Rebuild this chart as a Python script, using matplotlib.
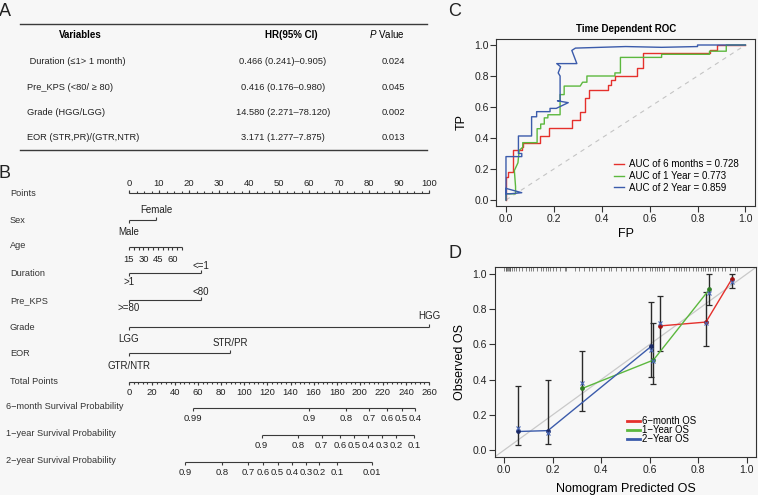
import matplotlib
matplotlib.use('Agg')
import matplotlib.pyplot as plt
import numpy as np

# figure size in pixels
W, H = 758, 495
BG = '#f7f7f7'
LINE = '#3a3a3a'

plt.rcParams['font.family'] = ['Liberation Sans', 'DejaVu Sans']
plt.rcParams['mathtext.fontset'] = 'custom'
plt.rcParams['mathtext.it'] = 'Liberation Sans:italic'
plt.rcParams['mathtext.rm'] = 'Liberation Sans'

# ---------------- data ----------------
# A: Cox table
var_names = [' Duration (≤1> 1 month)', 'Pre_KPS (<80/ ≥ 80)', 'Grade (HGG/LGG)', 'EOR (STR,PR)/(GTR,NTR)']
hr_ci = ['0.466 (0.241)–0.905)', '0.416 (0.176–0.980)', '14.580 (2.271–78.120)', '3.171 (1.277–7.875)']
p_vals = ['0.024', '0.045', '0.002', '0.013']

# B: nomogram (points for each level)
sex_levels = ['Male', 'Female']
sex_points = [0, 9]
age_ticks = [15, 20, 25, 30, 35, 40, 45, 50, 55, 60, 65, 70]
age_labels = [15, 30, 45, 60]
age_pts_per_year = 17.7 / 55
dur_levels = ['>1', '<=1']
dur_points = [0, 24]
kps_levels = ['>=80', '<80']
kps_points = [0, 24]
grade_levels = ['LGG', 'HGG']
grade_points = [0, 100]
eor_levels = ['GTR/NTR', 'STR/PR']
eor_points = [0, 33.7]
total_max = 260
surv6_probs = ['0.99', '0.9', '0.8', '0.7', '0.6', '0.5', '0.4']
surv6_total = [55.5, 156, 188, 208, 223.6, 236.3, 247.9]
surv1_probs = ['0.9', '0.8', '0.7', '0.6', '0.5', '0.4', '0.3', '0.2', '0.1']
surv1_total = [115, 146.2, 167, 182.9, 195, 207.4, 219.5, 231.4, 247]
surv2_probs = ['0.9', '0.8', '0.7', '0.6', '0.5', '0.4', '0.3', '0.2', '0.1', '0.01']
surv2_total = [48.5, 80.9, 103.4, 116.4, 128.8, 141.5, 153.4, 165, 180.6, 210.4]

# C: time dependent ROC
fp_6m = [0.0, 0.0, 0.01, 0.01, 0.028, 0.028, 0.065, 0.065, 0.072, 0.072, 0.142, 0.142, 0.181, 0.181,
         0.275, 0.275, 0.31, 0.31, 0.33, 0.33, 0.345, 0.345, 0.428, 0.428, 0.44, 0.44, 0.455, 0.455,
         0.547, 0.547, 0.572, 0.572, 0.854, 0.854, 0.88, 0.88, 1.0]
tp_6m = [0.0, 0.15, 0.15, 0.178, 0.178, 0.32, 0.32, 0.345, 0.345, 0.366, 0.366, 0.41, 0.41, 0.462,
         0.462, 0.516, 0.516, 0.57, 0.57, 0.655, 0.655, 0.71, 0.71, 0.74, 0.74, 0.775, 0.775, 0.80,
         0.80, 0.85, 0.85, 0.95, 0.95, 0.968, 0.968, 1.0, 1.0]
fp_1y = [0.0, 0.0, 0.04, 0.04, 0.035, 0.05, 0.055, 0.07, 0.07, 0.13, 0.13, 0.145, 0.145, 0.16, 0.16,
         0.175, 0.175, 0.226, 0.226, 0.243, 0.243, 0.31, 0.32, 0.338, 0.338, 0.455, 0.455, 0.478,
         0.478, 0.65, 0.65, 0.85, 0.85, 0.92, 0.92, 1.0]
tp_1y = [0.0, 0.04, 0.04, 0.086, 0.19, 0.24, 0.32, 0.34, 0.37, 0.37, 0.46, 0.46, 0.49, 0.49, 0.53,
         0.53, 0.55, 0.55, 0.68, 0.68, 0.735, 0.735, 0.76, 0.76, 0.80, 0.80, 0.82, 0.82, 0.92, 0.92,
         0.94, 0.94, 0.96, 0.96, 1.0, 1.0]
fp_2y = [0.0, 0.0, 0.066, 0.017, 0.0, 0.0, 0.066, 0.066, 0.052, 0.052, 0.107, 0.107, 0.128, 0.128,
         0.184, 0.184, 0.21, 0.26, 0.215, 0.226, 0.226, 0.218, 0.228, 0.212, 0.296, 0.275, 0.29,
         0.5, 0.65, 0.8, 0.8, 1.0]
tp_2y = [0.0, 0.075, 0.047, 0.04, 0.04, 0.28, 0.28, 0.30, 0.30, 0.413, 0.413, 0.537, 0.537, 0.57,
         0.57, 0.591, 0.591, 0.628, 0.64, 0.64, 0.80, 0.82, 0.86, 0.88, 0.88, 0.965, 0.98, 0.99,
         0.985, 0.99, 1.0, 1.0]
roc_labels = ['AUC of 6 months = 0.728', 'AUC of 1 Year = 0.773', 'AUC of 2 Year = 0.859']

# D: calibration
cal6_pred = [0.642, 0.832, 0.938]
cal6_obs = [0.705, 0.727, 0.97]
cal6_lo = [0.564, 0.59, 0.919]
cal6_hi = [0.877, 0.896, 1.0]
cal6_corr = [0.72, 0.722, 0.953]
cal1_pred = [0.322, 0.615, 0.846]
cal1_obs = [0.35, 0.511, 0.913]
cal1_lo = [0.22, 0.375, 0.824]
cal1_hi = [0.5625, 0.72, 1.0]
cal1_corr = [0.383, 0.505, 0.89]
cal2_pred = [0.058, 0.18, 0.607]
cal2_obs = [0.105, 0.11, 0.59]
cal2_lo = [0.028, 0.032, 0.413]
cal2_hi = [0.364, 0.398, 0.843]
cal2_corr = [0.127, 0.095, 0.568]
rug_pred = [0.0, 0.005, 0.008, 0.012, 0.015, 0.018, 0.022, 0.025, 0.03, 0.04, 0.05, 0.06, 0.075,
            0.09, 0.1, 0.11, 0.12, 0.135, 0.15, 0.16, 0.17, 0.18, 0.19, 0.2, 0.215, 0.23, 0.25,
            0.255, 0.29, 0.31, 0.33, 0.35, 0.36, 0.38, 0.4, 0.41, 0.43, 0.44, 0.46, 0.48, 0.5,
            0.52, 0.53, 0.55, 0.57, 0.58, 0.6, 0.61, 0.62, 0.63, 0.64, 0.65, 0.66, 0.68, 0.7,
            0.71, 0.72, 0.73, 0.74, 0.75, 0.76, 0.78, 0.79, 0.8, 0.81, 0.82, 0.83, 0.84, 0.85,
            0.86, 0.87, 0.88, 0.9, 0.91, 0.93, 0.95, 0.96]
cal_labels = ['6\u2212month OS', '1\u2212Year OS', '2\u2212Year OS']

RED, GREEN, BLUE = '#e5302c', '#5cb83e', '#3b5bab'

# ---------------- figure ----------------
fig = plt.figure(figsize=(W / 100, H / 100), dpi=100, facecolor=BG)


def px_axes(x0, y0, x1, y1):
    return fig.add_axes([x0 / W, 1 - y1 / H, (x1 - x0) / W, (y1 - y0) / H])


canvas = px_axes(0, 0, W, H)
canvas.set_xlim(0, W)
canvas.set_ylim(H, 0)
canvas.axis('off')

# panel letters
for lab, x, y in [('A', 5, 12), ('B', 5, 174), ('C', 455, 12), ('D', 455, 254)]:
    canvas.text(x, y, lab, fontsize=13, ha='center', va='center', color='#222')

# ---- A: table ----
canvas.plot([20, 427], [24, 24], color=LINE, lw=1.0)
canvas.plot([20, 427], [150, 150], color=LINE, lw=1.0)
canvas.text(80, 34.5, 'Variables', fontsize=7, fontweight='bold', ha='center', va='center')
canvas.text(291, 34.5, 'HR(95% CI)', fontsize=7, fontweight='bold', ha='center', va='center')
canvas.text(387, 34.5, r'$\mathit{P}$ Value', fontsize=7, ha='center', va='center')
for i, (v, hr, p) in enumerate(zip(var_names, hr_ci, p_vals)):
    y = 62 + i * 25.3
    canvas.text(27, y, v, fontsize=6.7, ha='left', va='center', color='#222')
    canvas.text(283, y, hr, fontsize=6.7, ha='center', va='center', color='#222')
    canvas.text(393, y, p, fontsize=6.7, ha='center', va='center', color='#222')

# ---- B: nomogram (x in points units, y in pixels) ----
nomo = px_axes(0, 160, 460, 485)
nomo.set_xlim(-129 / 3, (460 - 129) / 3)
nomo.set_ylim(485, 160)
nomo.axis('off')
tot = 100 / total_max  # total points -> points units


def hline(y, x0, x1):
    nomo.plot([x0, x1], [y, y], color=LINE, lw=0.8, solid_capstyle='butt')


def ticks(xs, y, length):
    nomo.vlines(xs, y, y + length, color=LINE, lw=0.8)


def row_label(y, text, x=10):
    canvas.text(x, y, text, fontsize=6.6, ha='left', va='center', color='#333')


# Points
row_label(193, 'Points')
hline(193, 0, 100)
ticks(np.arange(0, 100.1, 2.5), 193, -2)
ticks(np.arange(0, 101, 10), 193, -3)
for v in range(0, 101, 10):
    nomo.text(v, 183, str(v), fontsize=6.8, ha='center', va='center', color='#222')

# categorical rows
cat_rows = [('Sex', sex_levels, sex_points, 220, 10, 12),
            ('Duration', dur_levels, dur_points, 273.3, 7.5, 8.5),
            ('Pre_KPS', kps_levels, kps_points, 300, 8.3, 8),
            ('Grade', grade_levels, grade_points, 326.5, 10.5, 12.8),
            ('EOR', eor_levels, eor_points, 353.3, 10, 12.7)]
for name, levels, pts, y, up, down in cat_rows:
    row_label(y + 0.5, name)
    hline(y, min(pts), max(pts))
    for k, (lev, p) in enumerate(zip(levels, pts)):
        if k % 2 == 0:
            ticks([p], y, 3)
            nomo.text(p, y + down, lev, fontsize=7, ha='center', va='center', color='#222')
        else:
            ticks([p], y, -3)
            nomo.text(p, y - up, lev, fontsize=7, ha='center', va='center', color='#222')

# Age
row_label(246, 'Age')
age_pts = [(a - age_ticks[0]) * age_pts_per_year for a in age_ticks]
hline(247, 0, max(age_pts))
ticks(age_pts, 247, 3)
for a in age_labels:
    nomo.text((a - age_ticks[0]) * age_pts_per_year, 259, str(a), fontsize=6.8,
              ha='center', va='center', color='#222')

# Total points
row_label(381, 'Total Points')
hline(381.7, 0, total_max * tot)
ticks(np.arange(0, total_max + 0.1, 4) * tot, 381.7, 2)
ticks(np.arange(0, total_max + 1, 20) * tot, 381.7, 3)
for v in range(0, total_max + 1, 20):
    nomo.text(v * tot, 392.7, str(v), fontsize=6.8, ha='center', va='center', color='#222')

# survival probability scales
surv_rows = [('6\u2212month Survival Probability', surv6_probs, surv6_total, 407.5),
             ('1\u2212year Survival Probability', surv1_probs, surv1_total, 434.5),
             ('2\u2212year Survival Probability', surv2_probs, surv2_total, 461.5)]
for name, probs, tps, y in surv_rows:
    row_label(y - 1, name, x=6)
    xs = np.array(tps) * tot
    hline(y, xs.min(), xs.max())
    ticks(xs, y, 3)
    for lab, x in zip(probs, xs):
        nomo.text(x, y + 11.3, lab, fontsize=6.8, ha='center', va='center', color='#222')


# ---- C: ROC ----
def style_axes(ax):
    ax.set_facecolor(BG)
    ax.set_xlim(-0.04, 1.04)
    ax.set_ylim(-0.04, 1.04)
    ticks_ = np.arange(0, 1.01, 0.2)
    ax.set_xticks(ticks_)
    ax.set_yticks(ticks_)
    ax.set_xticklabels(['%.1f' % t for t in ticks_])
    ax.set_yticklabels(['%.1f' % t for t in ticks_])
    ax.tick_params(length=4, width=0.8, labelsize=7.5, pad=1.5, color='#333', labelcolor='#222')
    for s in ax.spines.values():
        s.set_color('#333')
        s.set_linewidth(0.8)


axc = px_axes(496.4, 38.8, 755, 206.2)
style_axes(axc)
axc.plot([0, 1], [0, 1], color='#c4c4c4', lw=0.8, ls=(0, (4, 4)))
axc.plot(fp_6m, tp_6m, color=RED, lw=1.0, label=roc_labels[0])
axc.plot(fp_1y, tp_1y, color=GREEN, lw=1.0, label=roc_labels[1])
axc.plot(fp_2y, tp_2y, color=BLUE, lw=1.0, label=roc_labels[2])
axc.set_title('Time Dependent ROC', fontsize=7, fontweight='bold', pad=5)
axc.set_xlabel('FP', fontsize=9, labelpad=3)
axc.set_ylabel('TP', fontsize=9, labelpad=5)
axc.legend(loc='upper left', bbox_to_anchor=(614 / W, 1 - 159 / H), bbox_transform=fig.transFigure,
           frameon=False, fontsize=7, borderpad=0, borderaxespad=0, handlelength=1.05,
           handletextpad=0.5, labelspacing=0.2)

# ---- D: calibration ----
axd = px_axes(494.6, 267, 756.4, 457)
style_axes(axd)
axd.plot([-0.04, 1.04], [-0.04, 1.04], color='#c9c9c9', lw=0.9)
axd.vlines(rug_pred, 1.018, 1.04, color='#555555', lw=0.5)
groups = [(cal6_pred, cal6_obs, cal6_lo, cal6_hi, cal6_corr, RED, '#a01010', cal_labels[0]),
          (cal1_pred, cal1_obs, cal1_lo, cal1_hi, cal1_corr, GREEN, '#2f7d25', cal_labels[1]),
          (cal2_pred, cal2_obs, cal2_lo, cal2_hi, cal2_corr, BLUE, '#1b2a66', cal_labels[2])]
handles = []
for pred, obs, lo, hi, corr, col, dcol, lab in groups:
    obs_a = np.array(obs)
    yerr = [obs_a - np.array(lo), np.array(hi) - obs_a]
    axd.errorbar(pred, obs, yerr=yerr, fmt='none', ecolor='#2a2a2a', elinewidth=1.0,
                 capsize=2.5, capthick=0.9, zorder=2)
    ln, = axd.plot(pred, obs, color=col, lw=1.0, label=lab, zorder=3)
    handles.append(ln)
    axd.plot(pred, obs, 'o', ms=2.4, color=dcol, zorder=4)
    axd.plot(pred, corr, 'x', ms=3, mew=0.8, color='#4a68b5', zorder=4)
axd.set_xlabel('Nomogram Predicted OS', fontsize=9, labelpad=6)
axd.set_ylabel('Observed OS', fontsize=9, labelpad=5)
leg = axd.legend(handles=handles, loc='upper left', bbox_to_anchor=(627 / W, 1 - 416 / H),
                 bbox_transform=fig.transFigure, frameon=False, fontsize=6.9, borderpad=0,
                 borderaxespad=0, handlelength=1.35, handletextpad=0.25, labelspacing=-0.08)
for l in leg.get_lines():
    l.set_linewidth(2)

fig.savefig('out.png', dpi=100, facecolor=BG)
